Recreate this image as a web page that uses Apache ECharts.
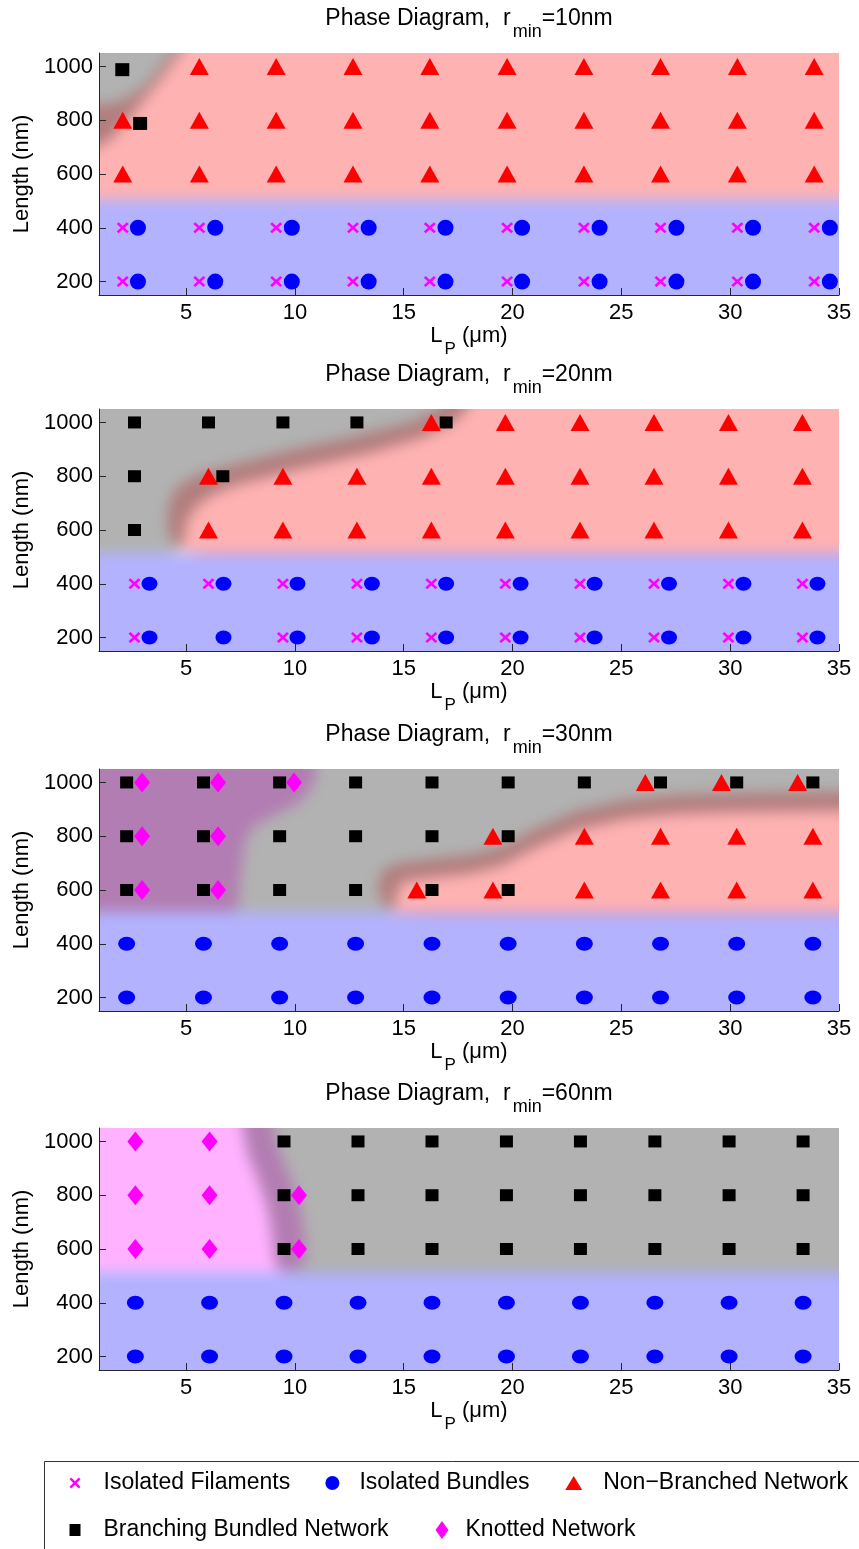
<!DOCTYPE html>
<html>
<head>
<meta charset="utf-8">
<script src="https://cdn.jsdelivr.net/npm/echarts@6/dist/echarts.min.js"></script>
<style>
  html, body { margin: 0; padding: 0; background: #fff; }
  #wrap { position: relative; width: 859px; height: 1549px; overflow: hidden; }
  #bg, #fg { position: absolute; left: 0; top: 0; width: 859px; height: 1549px; }
  #bg { filter: blur(7px); }
</style>
</head>
<body>
<div id="wrap"><div id="bg"></div><div id="fg"></div></div>
<script>
// ---- axes ----
const xTicks = [5, 10, 15, 20, 25, 30, 35];
const yTicks = [200, 400, 600, 800, 1000];
const xRange = [1, 35];
const yRange = [150, 1050];
const radii = ['10', '20', '30', '60'];

const phaseNames = ['Isolated Filaments', 'Isolated Bundles', 'Non\u2212Branched Network',
                    'Branching Bundled Network', 'Knotted Network'];

// ---- r_min = 10 nm : [Lp (um), Length (nm)] ----
const filaments10 = [[2.09,400],[5.61,400],[9.14,400],[12.67,400],[16.2,400],[19.75,400],[23.28,400],[26.8,400],[30.33,400],[33.86,400],
                     [2.09,200],[5.61,200],[9.14,200],[12.67,200],[16.2,200],[19.75,200],[23.28,200],[26.8,200],[30.33,200],[33.86,200]];
const bundles10 = [[2.79,400],[6.34,400],[9.86,400],[13.39,400],[16.92,400],[20.44,400],[24.0,400],[27.53,400],[31.05,400],[34.58,400],
                   [2.79,200],[6.34,200],[9.86,200],[13.39,200],[16.92,200],[20.44,200],[24.0,200],[27.53,200],[31.05,200],[34.58,200]];
const nonBranched10 = [[5.61,1000],[9.14,1000],[12.67,1000],[16.2,1000],[19.75,1000],[23.28,1000],[26.8,1000],[30.33,1000],[33.86,1000],
                       [2.09,800],[5.61,800],[9.14,800],[12.67,800],[16.2,800],[19.75,800],[23.28,800],[26.8,800],[30.33,800],[33.86,800],
                       [2.09,600],[5.61,600],[9.14,600],[12.67,600],[16.2,600],[19.75,600],[23.28,600],[26.8,600],[30.33,600],[33.86,600]];
const branching10 = [[2.07,988],[2.89,788]];
const knotted10 = [];

// ---- r_min = 20 nm ----
const filaments20 = [[2.63,400],[6.03,400],[9.45,400],[12.85,400],[16.27,400],[19.67,400],[23.1,400],[26.5,400],[29.92,400],[33.32,400],
                     [2.63,200],[9.45,200],[12.85,200],[16.27,200],[19.67,200],[23.1,200],[26.5,200],[29.92,200],[33.32,200]];
const bundles20 = [[3.32,400],[6.72,400],[10.12,400],[13.54,400],[16.95,400],[20.37,400],[23.77,400],[27.19,400],[30.61,400],[34.01,400],
                   [3.32,200],[6.72,200],[10.12,200],[13.54,200],[16.95,200],[20.37,200],[23.77,200],[27.19,200],[30.61,200],[34.01,200]];
const nonBranched20 = [[16.27,1000],[19.67,1000],[23.1,1000],[26.5,1000],[29.92,1000],[33.32,1000],
                       [6.03,800],[9.45,800],[12.85,800],[16.27,800],[19.67,800],[23.1,800],[26.5,800],[29.92,800],[33.32,800],
                       [6.03,600],[9.45,600],[12.85,600],[16.27,600],[19.67,600],[23.1,600],[26.5,600],[29.92,600],[33.32,600]];
const branching20 = [[2.63,1000],[6.03,1000],[9.45,1000],[12.85,1000],[16.95,1000],[2.63,800],[6.69,800],[2.63,600]];
const knotted20 = [];

// ---- r_min = 30 nm ----
const filaments30 = [];
const bundles30 = [[2.27,400],[5.8,400],[9.3,400],[12.79,400],[16.3,400],[19.8,400],[23.3,400],[26.8,400],[30.3,400],[33.8,400],
                   [2.27,200],[5.8,200],[9.3,200],[12.79,200],[16.3,200],[19.8,200],[23.3,200],[26.8,200],[30.3,200],[33.8,200]];
const nonBranched30 = [[26.1,1000],[29.6,1000],[33.1,1000],
                       [19.1,800],[23.3,800],[26.8,800],[30.3,800],[33.8,800],
                       [15.6,600],[19.1,600],[23.3,600],[26.8,600],[30.3,600],[33.8,600]];
const branching30 = [[2.27,1000],[5.8,1000],[9.3,1000],[12.79,1000],[16.3,1000],[19.8,1000],[23.3,1000],[26.8,1000],[30.3,1000],[33.8,1000],
                     [2.27,800],[5.8,800],[9.3,800],[12.79,800],[16.3,800],[19.8,800],
                     [2.27,600],[5.8,600],[9.3,600],[12.79,600],[16.3,600],[19.8,600]];
const knotted30 = [[2.98,1000],[6.47,1000],[9.96,1000],[2.98,800],[6.47,800],[2.98,600],[6.47,600]];

// ---- r_min = 60 nm ----
const filaments60 = [];
const bundles60 = [[2.67,400],[6.08,400],[9.5,400],[12.9,400],[16.3,400],[19.72,400],[23.12,400],[26.54,400],[29.95,400],[33.35,400],
                   [2.67,200],[6.08,200],[9.5,200],[12.9,200],[16.3,200],[19.72,200],[23.12,200],[26.54,200],[29.95,200],[33.35,200]];
const nonBranched60 = [];
const branching60 = [[9.5,1000],[12.9,1000],[16.3,1000],[19.72,1000],[23.12,1000],[26.54,1000],[29.95,1000],[33.35,1000],
                     [9.5,800],[12.9,800],[16.3,800],[19.72,800],[23.12,800],[26.54,800],[29.95,800],[33.35,800],
                     [9.5,600],[12.9,600],[16.3,600],[19.72,600],[23.12,600],[26.54,600],[29.95,600],[33.35,600]];
const knotted60 = [[2.67,1000],[6.08,1000],[2.67,800],[6.08,800],[10.19,800],[2.67,600],[6.08,600],[10.19,600]];

// ---- phase regions (shaded background), in data units ----
const blue10 = [[-5,-200],[45,-200],[45,505],[-5,505]];
const red10 = [[45,505],[45,1150],[5.0,1150],[4.3,1050],[3.6,975],[3.0,920],[2.2,880],[1.5,860],[-5,850],[-5,505]];
const gray10 = [[-5,1150],[5.3,1150],[4.7,1050],[4.1,980],[3.5,920],[2.9,860],[2.3,800],[1.6,735],[1.0,700],[-5,680]];
const magenta10 = [];

const blue20 = [[-5,-200],[45,-200],[45,515],[-5,515]];
const red20 = [[45,510],[45,1150],[17.3,1150],[16.8,1060],[15.5,1005],[12.8,950],[9.8,897],[6.8,835],[5.5,805],[4.6,760],
               [4.2,700],[4.15,630],[4.2,580],[4.5,545],[5.0,520],[6,510]];
const gray20 = [[-5,1150],[18.3,1150],[18.0,1060],[17.3,1000],[15.9,945],[13.4,885],[10.2,827],[7.2,765],[6.3,735],[5.5,690],
                [5.0,630],[4.95,580],[4.8,535],[4.3,515],[-5,515]];
const magenta20 = [];

const blue30 = [[-5,-200],[45,-200],[45,518],[-5,518]];
const red30 = [[45,510],[45,965],[35,965],[30,960],[27.5,953],[25.2,935],[22.9,892],[21,825],[19.5,760],[18,730],[16.2,715],
               [15.0,703],[14.2,685],[13.85,640],[13.85,590],[14.1,545],[14.7,515],[16,510]];
const gray30 = [[-5,1150],[45,1150],[45,895],[35,895],[30,890],[27.5,883],[25.2,865],[22.9,822],[21,755],[19.5,690],[18,660],
                [16.2,645],[15.0,633],[14.7,600],[14.6,540],[14.4,518],[-5,518]];
const magenta30 = [[-5,1150],[11.1,1150],[10.9,1000],[10.3,930],[9.1,880],[8.1,840],[7.7,780],[7.5,650],[7.4,540],[7.2,520],[-5,520]];

const blue60 = [[-5,-200],[45,-200],[45,514],[-5,514]];
const red60 = [];
const gray60 = [[45,1150],[45,512],[10.0,512],[9.3,520],[9.05,560],[8.95,650],[8.75,750],[8.35,850],[7.85,950],[7.6,1050],[7.6,1150]];
const magenta60 = [[-5,1150],[9.0,1150],[9.0,1050],[9.35,950],[9.85,850],[10.25,750],[10.45,650],[10.5,560],[10.2,530],[9.6,516],[-5,516]];

const panelMarks = [
  [filaments10, bundles10, nonBranched10, branching10, knotted10],
  [filaments20, bundles20, nonBranched20, branching20, knotted20],
  [filaments30, bundles30, nonBranched30, branching30, knotted30],
  [filaments60, bundles60, nonBranched60, branching60, knotted60]
];
const panelRegions = [
  [blue10, red10, magenta10, gray10],
  [blue20, red20, magenta20, gray20],
  [blue30, red30, magenta30, gray30],
  [blue60, red60, magenta60, gray60]
];

// ---- styling ----
const FONT = '"Liberation Sans", Arial, Helvetica, sans-serif';
const AXIS_COLOR = '#262626';
const GRID_LEFT = 99, GRID_W = 740, GRID_H = 242;
const gridTops = [53, 409, 769, 1128];
const regionFills = ['rgba(0,0,255,0.3)', 'rgba(255,0,0,0.3)', 'rgba(255,0,255,0.3)', 'rgba(0,0,0,0.3)'];
const CROSS = 'path://M0,1.6L1.6,0L5,3.4L8.4,0L10,1.6L6.6,5L10,8.4L8.4,10L5,6.6L1.6,10L0,8.4L3.4,5Z';
const markSymbols = [CROSS, 'circle', 'triangle', 'rect', 'diamond'];
const markColors = ['#ff00ff', '#0000ff', '#ff0000', '#000000', '#ff00ff'];
const markSizes = [
  [[12,11], [16,16], [19,17], [14,13], [16,20]],
  [[12,11], [16,14], [19,17], [13,12], [16,20]],
  [[12,11], [17,14], [19,17], [13,12], [16,20]],
  [[12,11], [17,14], [19,17], [13,12], [16,20]]
];

const axisNameRich = {
  m: { fontSize: 22, fontFamily: FONT, color: '#000', lineHeight: 24, verticalAlign: 'top' },
  s: { fontSize: 17, fontFamily: FONT, color: '#000', lineHeight: 17, verticalAlign: 'top', padding: [16, 0, 0, 2] }
};
const titleRich = {
  m: { fontSize: 23, fontFamily: FONT, color: '#000', lineHeight: 25, verticalAlign: 'top' },
  s: { fontSize: 18, fontFamily: FONT, color: '#000', lineHeight: 18, verticalAlign: 'top', padding: [16, 0, 0, 2] }
};

function grids() {
  return gridTops.map(t => ({ left: GRID_LEFT, top: t, width: GRID_W, height: GRID_H,
                              containLabel: false, outerBoundsMode: 'none' }));
}

function xAxes(visible) {
  return gridTops.map((t, i) => ({
    gridIndex: i, type: 'value', min: xRange[0], max: xRange[1], show: visible,
    axisLine: { show: true, onZero: false, lineStyle: { color: AXIS_COLOR, width: 1 } },
    axisTick: { show: true, inside: true, length: 7, customValues: xTicks, lineStyle: { color: AXIS_COLOR, width: 1 } },
    axisLabel: { show: true, customValues: xTicks, margin: 7, fontSize: 22, fontFamily: FONT, color: '#000',
                 formatter: v => String(v) },
    splitLine: { show: false },
    name: '{m|L}{s|P}{m| (\u03bcm)}', nameLocation: 'middle', nameGap: 24,
    nameTextStyle: { rich: axisNameRich, fontFamily: FONT, color: '#000' }
  }));
}

function yAxes(visible) {
  return gridTops.map((t, i) => ({
    gridIndex: i, type: 'value', min: yRange[0], max: yRange[1], show: visible,
    axisLine: { show: true, onZero: false, lineStyle: { color: AXIS_COLOR, width: 1 } },
    axisTick: { show: true, inside: true, length: 7, customValues: yTicks, lineStyle: { color: AXIS_COLOR, width: 1 } },
    axisLabel: { show: true, customValues: yTicks, margin: 6, fontSize: 22, fontFamily: FONT, color: '#000',
                 formatter: v => String(v) },
    splitLine: { show: false },
    name: 'Length (nm)', nameLocation: 'middle', nameGap: 54,
    nameTextStyle: { fontSize: 22, fontFamily: FONT, color: '#000' }
  }));
}

// ---- background: blurred phase regions ----
function polygonRenderer(pts, fill) {
  return function (params, api) {
    if (params.dataIndex !== 0) return null;
    return { type: 'polygon', shape: { points: pts.map(p => api.coord(p)) }, style: { fill: fill } };
  };
}

const bgSeries = [];
panelRegions.forEach((layers, i) => {
  layers.forEach((pts, k) => {
    if (!pts.length) return;
    bgSeries.push({
      type: 'custom', coordinateSystem: 'cartesian2d', xAxisIndex: i, yAxisIndex: i,
      clip: false, silent: true, data: pts, renderItem: polygonRenderer(pts, regionFills[k])
    });
  });
});

const bgDiv = document.getElementById('bg');
bgDiv.style.clipPath = "path('" + gridTops.map(t =>
  'M' + GRID_LEFT + ',' + t + 'H' + (GRID_LEFT + GRID_W) + 'V' + (t + GRID_H) + 'H' + GRID_LEFT + 'Z').join(' ') + "')";

const bgChart = echarts.init(bgDiv, null, { renderer: 'canvas' });
bgChart.setOption({
  animation: false,
  grid: grids(), xAxis: xAxes(false), yAxis: yAxes(false),
  series: bgSeries
});

// ---- foreground: axes, markers, titles, legend ----
const fgSeries = [];
panelMarks.forEach((sets, i) => {
  sets.forEach((pts, k) => {
    fgSeries.push({
      type: 'scatter', name: phaseNames[k], xAxisIndex: i, yAxisIndex: i,
      data: pts, symbol: markSymbols[k], symbolSize: markSizes[i][k],
      itemStyle: { color: markColors[k], opacity: 1 }, silent: true,
      emphasis: { disabled: true }, z: 2 + k
    });
  });
});

const titleGraphics = gridTops.map((t, i) => ({
  type: 'text', x: GRID_LEFT + GRID_W / 2, y: t - 46, silent: true,
  style: {
    text: '{m|Phase Diagram,  r}{s|min}{m|=' + radii[i] + 'nm}',
    rich: titleRich, align: 'center', verticalAlign: 'top', fill: '#000', fontFamily: FONT
  }
}));

const legendSpecs = [
  { left: 69.5, top: 1470, w: 11, h: 11, pad: 18 },
  { left: 325.4, top: 1470, w: 14, h: 14, pad: 15 },
  { left: 565.2, top: 1470, w: 17, h: 14, pad: 16 },
  { left: 69.5, top: 1517, w: 11, h: 12, pad: 18 },
  { left: 435.5, top: 1517, w: 13, h: 18, pad: 12 }
];

const legends = legendSpecs.map((s, k) => ({
  data: [phaseNames[k]], left: s.left, top: s.top, itemWidth: s.w, itemHeight: s.h,
  padding: 0, selectedMode: false, orient: 'horizontal',
  textStyle: { fontSize: 23, fontFamily: FONT, color: '#000', lineHeight: 26, padding: [0, 0, 0, s.pad] }
}));

const fgChart = echarts.init(document.getElementById('fg'), null, { renderer: 'canvas' });
fgChart.setOption({
  animation: false,
  backgroundColor: 'transparent',
  grid: grids(), xAxis: xAxes(true), yAxis: yAxes(true),
  legend: legends,
  graphic: [
    { type: 'rect', silent: true, shape: { x: 44.5, y: 1461.5, width: 840, height: 120 },
      style: { fill: 'none', stroke: '#333', lineWidth: 1 } }
  ].concat(titleGraphics),
  series: fgSeries
});
</script>
</body>
</html>
